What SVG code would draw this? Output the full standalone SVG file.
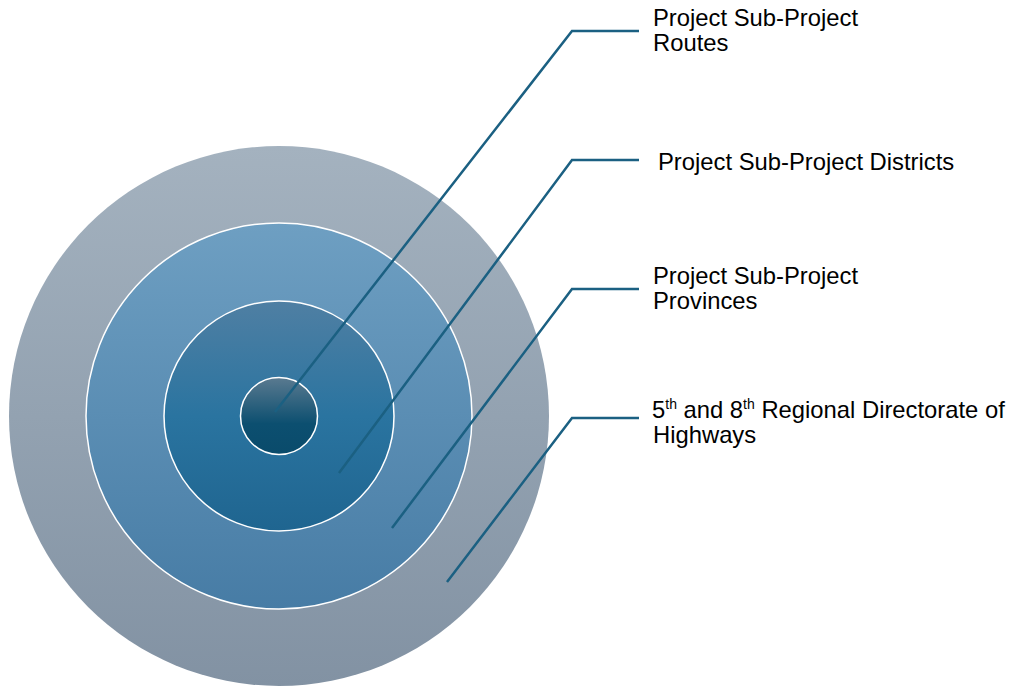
<svg xmlns="http://www.w3.org/2000/svg" width="1018" height="688" viewBox="0 0 1018 688">
<defs>
<linearGradient id="g1" x1="0" y1="0" x2="0" y2="1"><stop offset="0" stop-color="#a4b2bf"/><stop offset="1" stop-color="#8292a3"/></linearGradient>
<linearGradient id="g2" x1="0" y1="0" x2="0" y2="1"><stop offset="0" stop-color="#6e9fc2"/><stop offset="1" stop-color="#477ca5"/></linearGradient>
<linearGradient id="g3" x1="0" y1="0" x2="0" y2="1"><stop offset="0" stop-color="#4f7fa3"/><stop offset="0.5" stop-color="#2a74a0"/><stop offset="1" stop-color="#1f6590"/></linearGradient>
<linearGradient id="g4" x1="0" y1="0" x2="0" y2="1"><stop offset="0" stop-color="#5a7a90"/><stop offset="0.6" stop-color="#0c4f70"/><stop offset="1" stop-color="#0a4b6b"/></linearGradient>
</defs>
<style>
.ring{stroke:#ffffff;stroke-width:1.5}
.conn{fill:none;stroke:#1b6082;stroke-width:2.5}
.lbl{font-family:"Liberation Sans",Arial,sans-serif;font-size:23.8px;fill:#000}
.sup{font-size:14px}
</style>
<rect width="1018" height="688" fill="#ffffff"/>
<g id="ring-outer"><circle cx="279" cy="416" r="270" fill="url(#g1)"/></g>
<g id="ring-2"><circle class="ring" cx="279" cy="416" r="193" fill="url(#g2)"/></g>
<g id="ring-3"><circle class="ring" cx="279" cy="416" r="115" fill="url(#g3)"/></g>
<g id="ring-inner"><circle class="ring" cx="279" cy="416" r="38.5" fill="url(#g4)"/></g>
<g id="connectors">
<polyline class="conn" points="275,412 572,31 639,31"/>
<polyline class="conn" points="339,473 572,160 639,160"/>
<polyline class="conn" points="392,528 572,289 639,289"/>
<polyline class="conn" points="447,582 572,418 639,418"/>
</g>
<g id="label-routes"><text class="lbl" x="653" y="26">Project Sub-Project</text><text class="lbl" x="653" y="51">Routes</text></g>
<g id="label-districts"><text class="lbl" x="658" y="170">Project Sub-Project Districts</text></g>
<g id="label-provinces"><text class="lbl" x="653" y="284">Project Sub-Project</text><text class="lbl" x="653" y="309">Provinces</text></g>
<g id="label-directorate"><text class="lbl" x="652" y="418">5<tspan class="sup" dy="-9">th</tspan><tspan dy="9"> and 8</tspan><tspan class="sup" dy="-9">th</tspan><tspan dy="9"> Regional Directorate of</tspan></text><text class="lbl" x="653" y="443">Highways</text></g>
</svg>
